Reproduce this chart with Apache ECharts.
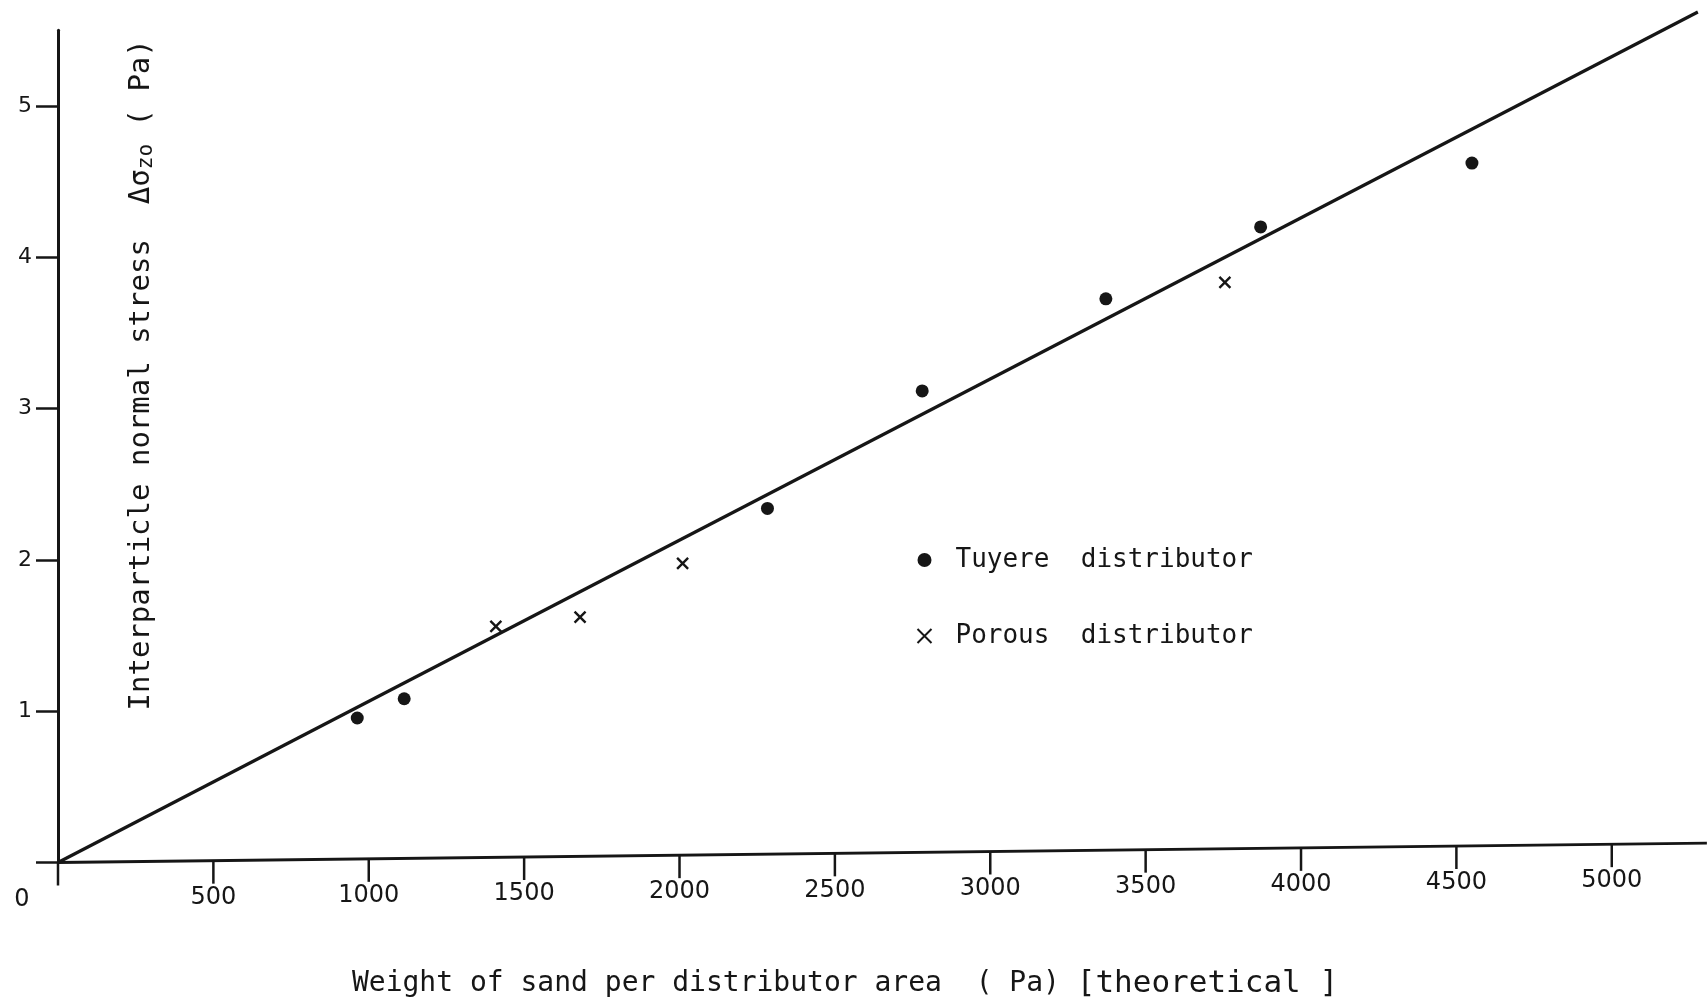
<!DOCTYPE html>
<html>
<head>
<meta charset="utf-8">
<title>Interparticle normal stress vs. weight of sand</title>
<script src="https://cdn.jsdelivr.net/npm/echarts@6/dist/echarts.min.js"></script>
<style>
  html, body { margin: 0; padding: 0; background: #ffffff; }
  #chart { width: 1707px; height: 1004px; }
</style>
</head>
<body>
<div id="chart"></div>
<script>
// Measurements: weight of sand per distributor area (Pa) vs. interparticle normal stress (Pa)
const tuyereX = [963, 1114, 2283, 2781, 3372, 3870, 4550];
const tuyereY = [0.955, 1.082, 2.34, 3.116, 3.725, 4.20, 4.622];
const porousX = [1409, 1680, 2010, 3755];
const porousY = [1.561, 1.621, 1.977, 3.834];

// Straight line through the origin fitted to both sets
const fitX = [0, 5277];
const fitY = [0, 5.62];

// Axis ticks
const xTickValues = [0, 500, 1000, 1500, 2000, 2500, 3000, 3500, 4000, 4500, 5000];
const xTickLabels = ['0', '500', '1000', '1500', '2000', '2500', '3000', '3500', '4000', '4500', '5000'];
const yTickValues = [0, 1, 2, 3, 4, 5];
const yTickLabels = ['', '1', '2', '3', '4', '5'];

const INK = '#161616';
const MONO = '"DejaVu Sans Mono", monospace';
const SANS = '"DejaVu Sans", sans-serif';

// The hand-drawn abscissa rises slightly towards the right
const AXIS_TILT = 0.0118;
const X_AXIS_END = 5306;

const pair = (xs, ys) => xs.map((x, i) => [x, ys[i]]);

const chart = echarts.init(document.getElementById('chart'), null, { renderer: 'canvas' });

chart.setOption({
  backgroundColor: '#ffffff',
  animation: false,
  grid: { left: 58, right: 2, top: 30.2, bottom: 140 },
  xAxis: {
    type: 'value',
    min: 0,
    max: 5300,
    interval: 500,
    axisLine: { show: false },
    axisTick: { show: false },
    axisLabel: { show: false },
    splitLine: { show: false },
    name: 'Weight of sand per distributor area  ( Pa) {big|[theoretical ]}',
    nameLocation: 'middle',
    nameGap: 121,
    nameTextStyle: {
      fontFamily: MONO,
      fontSize: 28,
      color: INK,
      align: 'center',
      verticalAlign: 'middle',
      padding: [0, 73, 0, 0],
      rich: {
        big: { fontFamily: MONO, fontSize: 31, color: INK }
      }
    }
  },
  yAxis: {
    type: 'value',
    min: 0,
    max: 5.5,
    interval: 1,
    axisLine: { show: true, lineStyle: { color: INK, width: 3 } },
    axisTick: {
      show: true,
      inside: false,
      length: 22,
      customValues: yTickValues,
      lineStyle: { color: INK, width: 2.5 }
    },
    axisLabel: {
      margin: 26,
      fontFamily: SANS,
      fontSize: 22,
      color: INK,
      customValues: yTickValues,
      formatter: v => yTickLabels[yTickValues.indexOf(Math.round(v))] || ''
    },
    splitLine: { show: false },
    name: 'Interparticle normal stress  Δσ{sub|zo} ( Pa)',
    nameLocation: 'middle',
    nameGap: -83,
    nameTextStyle: {
      fontFamily: MONO,
      fontSize: 29,
      color: INK,
      align: 'center',
      verticalAlign: 'middle',
      padding: [0, 0, 0, 143],
      rich: {
        sub: { fontFamily: MONO, fontSize: 21, color: INK, padding: [12, 0, 0, 0] }
      }
    }
  },
  legend: {
    data: ['Tuyere distributor', 'Porous distributor'],
    orient: 'vertical',
    left: 910,
    top: 540,
    itemWidth: 14,
    itemHeight: 14,
    itemGap: 46,
    formatter: name => name.replace(' ', '  '),
    textStyle: {
      fontFamily: MONO,
      fontSize: 26,
      lineHeight: 30,
      color: INK,
      padding: [0, 0, 0, 19]
    }
  },
  series: [
    {
      name: 'fit',
      type: 'line',
      data: pair(fitX, fitY),
      showSymbol: false,
      clip: false,
      silent: true,
      lineStyle: { color: INK, width: 3.2 },
      z: 2
    },
    {
      name: 'Tuyere distributor',
      type: 'scatter',
      data: pair(tuyereX, tuyereY),
      symbol: 'circle',
      symbolSize: 13,
      itemStyle: { color: INK, opacity: 1 },
      clip: false,
      z: 3
    },
    {
      name: 'Porous distributor',
      type: 'scatter',
      data: pair(porousX, porousY),
      symbol: 'path://M0,0L10,10M10,0L0,10',
      symbolSize: 11,
      itemStyle: { color: 'none', borderColor: INK, borderWidth: 2.4, opacity: 1 },
      clip: false,
      z: 3
    },
    {
      // abscissa drawn by hand: tilted line, downward ticks and their labels
      name: 'abscissa',
      type: 'custom',
      coordinateSystem: 'cartesian2d',
      data: xTickValues.map(v => [v, 0]),
      clip: false,
      silent: true,
      z: 1,
      renderItem: (params, api) => {
        const v = api.value(0);
        const origin = api.coord([0, 0]);
        const p = api.coord([v, 0]);
        const x = p[0];
        const y = p[1] - (p[0] - origin[0]) * AXIS_TILT;
        const children = [
          {
            type: 'line',
            shape: { x1: x, y1: y, x2: x, y2: y + 23 },
            style: { stroke: INK, lineWidth: 2.5 }
          },
          {
            type: 'text',
            x: v === 0 ? x - 36 : x,
            y: y + 37,
            style: {
              text: xTickLabels[params.dataIndex],
              fontFamily: SANS,
              fontSize: 24,
              fill: INK,
              align: 'center',
              verticalAlign: 'middle'
            }
          }
        ];
        if (params.dataIndex === 0) {
          const end = api.coord([X_AXIS_END, 0]);
          children.push({
            type: 'line',
            shape: {
              x1: origin[0], y1: origin[1],
              x2: end[0], y2: end[1] - (end[0] - origin[0]) * AXIS_TILT
            },
            style: { stroke: INK, lineWidth: 2.8 }
          });
        }
        return { type: 'group', children };
      }
    }
  ]
});
</script>
</body>
</html>
